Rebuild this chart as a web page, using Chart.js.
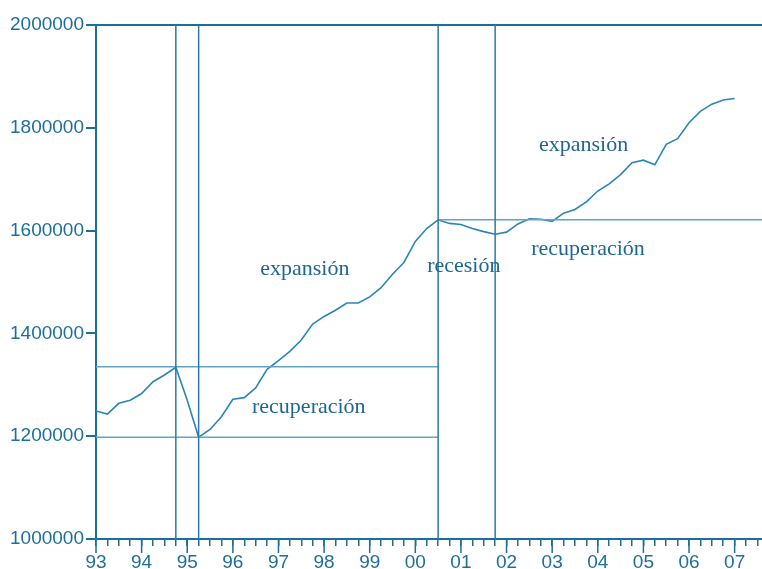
<!DOCTYPE html>
<html lang="es">
<head>
<meta charset="utf-8">
<title>Ciclo</title>
<script src="https://cdn.jsdelivr.net/npm/chart.js@4"></script>
<style>
  html, body { margin: 0; padding: 0; background: #fff; }
  #caja { width: 762px; height: 569px; }
</style>
</head>
<body>
<div id="caja"><canvas id="ciclo"></canvas></div>
<script>
// datos trimestrales
const inicio = 1993;
const valores = [
    1249000, 1243000, 1264000, 1270000, // 93
    1283000, 1306000, 1319000, 1334000, // 94
    1270000, 1198000, 1213000, 1238000, // 95
    1272000, 1275000, 1294000, 1330000, // 96
    1347000, 1365000, 1387000, 1418000, // 97
    1433000, 1445000, 1459000, 1459000, // 98
    1471000, 1489000, 1515000, 1538000, // 99
    1579000, 1604000, 1621000, 1614000, // 00
    1612000, 1604000, 1598000, 1593000, // 01
    1597000, 1613000, 1623000, 1622000, // 02
    1618000, 1634000, 1641000, 1656000, // 03
    1677000, 1691000, 1709000, 1732000, // 04
    1737000, 1728000, 1768000, 1779000, // 05
    1810000, 1832000, 1846000, 1854000, // 06
    1857000                             // 07
];
const etiquetasX = ["93", "94", "95", "96", "97", "98", "99", "00", "01", "02", "03", "04", "05", "06", "07"];
const marcasY = [1000000, 1200000, 1400000, 1600000, 1800000, 2000000];

const lineasVerticales = [1994.75, 1995.25, 2000.5, 2001.75];
const lineasHorizontales = [
    { y: 1335000, desde: 1993, hasta: 2000.5 },
    { y: 1198000, desde: 1993, hasta: 2000.5 },
    { y: 1621000, desde: 2000.5, hasta: 2007.6 },
];
const notas = [
    { texto: "expansión", x: 1996.6, y: 1513600 },
    { texto: "recuperación", x: 1996.42, y: 1245100 },
    { texto: "recesión", x: 2000.26, y: 1519500 },
    { texto: "recuperación", x: 2002.54, y: 1552500 },
    { texto: "expansión", x: 2002.71, y: 1754900 },
];

const azul = "#1d6f9b";

var datasets = [];
lineasVerticales.forEach((x) => {
    datasets.push({
        data: [{ x: x, y: 1000000 }, { x: x, y: 2000000 }],
        borderColor: "#2a7aa5",
        borderWidth: 1.5,
        pointRadius: 0,
    });
});
lineasHorizontales.forEach((l) => {
    datasets.push({
        data: [{ x: l.desde, y: l.y }, { x: l.hasta, y: l.y }],
        borderColor: "#62a3c6",
        borderWidth: 1.5,
        pointRadius: 0,
    });
});
datasets.push({
    data: valores.map((v, i) => ({ x: inicio + i / 4, y: v })),
    borderColor: "#2b86b4",
    borderWidth: 1.6,
    pointRadius: 0,
    tension: 0,
});

const extras = {
    id: "extras",
    afterDraw(chart) {
        const ctx = chart.ctx;
        const sx = chart.scales.x;
        const sy = chart.scales.y;
        ctx.save();
        // marcas largas en cada año
        ctx.strokeStyle = azul;
        ctx.lineWidth = 1.5;
        sx.ticks.forEach((t) => {
            if (Number.isInteger(t.value)) {
                const px = sx.getPixelForValue(t.value);
                ctx.beginPath();
                ctx.moveTo(px, sx.top);
                ctx.lineTo(px, sx.top + 14);
                ctx.stroke();
            }
        });
        // textos
        ctx.fillStyle = "#1e6790";
        ctx.font = "22px 'Liberation Serif', 'Times New Roman', serif";
        ctx.textAlign = "left";
        ctx.textBaseline = "alphabetic";
        notas.forEach((n) => {
            ctx.fillText(n.texto, sx.getPixelForValue(n.x), sy.getPixelForValue(n.y));
        });
        ctx.restore();
    },
};

new Chart(document.getElementById("ciclo"), {
    type: "line",
    data: { datasets: datasets },
    options: {
        responsive: true,
        maintainAspectRatio: false,
        animation: false,
        layout: { padding: { top: 25, right: 0, bottom: 0, left: 0 } },
        plugins: { legend: { display: false }, tooltip: { enabled: false } },
        scales: {
            x: {
                type: "linear",
                min: 1993,
                max: 2007.6,
                afterBuildTicks: (s) => {
                    const t = [];
                    for (let i = 0; i <= 58; i++) t.push({ value: inicio + i / 4 });
                    s.ticks = t;
                },
                afterFit: (s) => { s.height = 30; s.paddingRight = 0; },
                border: { color: azul, width: 2 },
                grid: { drawOnChartArea: false, tickLength: 7, tickColor: azul, lineWidth: 1.5 },
                ticks: {
                    autoSkip: false,
                    maxRotation: 0,
                    padding: 5,
                    color: azul,
                    font: { family: "'Liberation Sans', Arial, sans-serif", size: 19 },
                    callback: (v) => Number.isInteger(v) ? etiquetasX[v - inicio] : "",
                },
            },
            y: {
                min: 1000000,
                max: 2000000,
                afterBuildTicks: (s) => { s.ticks = marcasY.map((v) => ({ value: v })); },
                afterFit: (s) => { s.width = 96; },
                border: { color: azul, width: 2 },
                grid: {
                    drawOnChartArea: true,
                    tickLength: 10,
                    tickColor: azul,
                    lineWidth: 2,
                    color: (c) => c.tick && c.tick.value === 2000000 ? azul : "transparent",
                },
                ticks: {
                    padding: 2,
                    color: azul,
                    font: { family: "'Liberation Sans', Arial, sans-serif", size: 19 },
                    callback: (v) => String(v),
                },
            },
        },
    },
    plugins: [extras],
});
</script>
</body>
</html>
